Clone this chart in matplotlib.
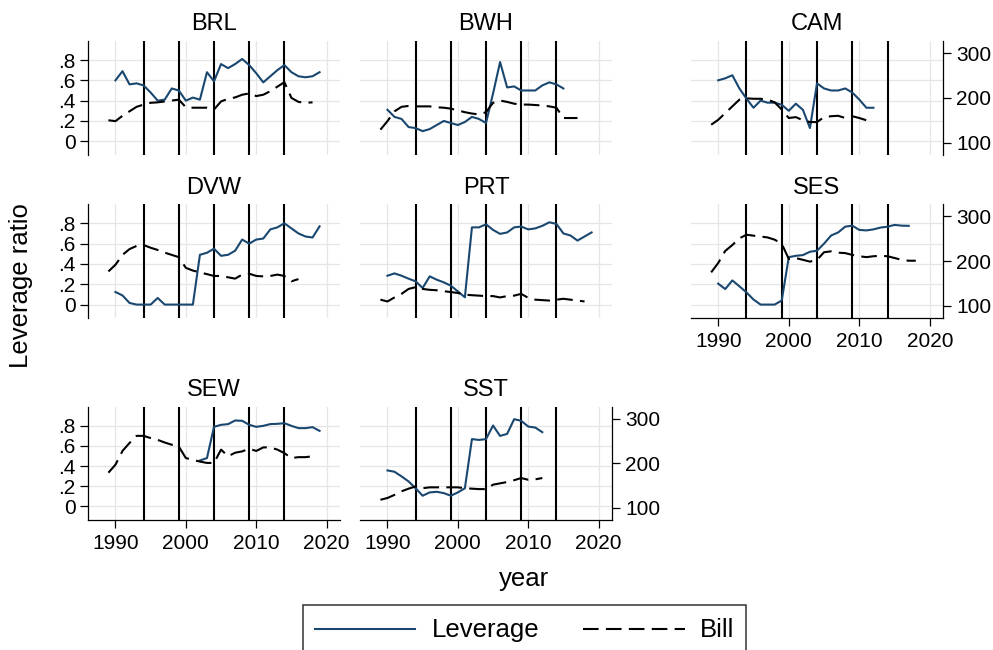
import matplotlib
matplotlib.use("Agg")
import matplotlib.pyplot as plt
from matplotlib.lines import Line2D
from matplotlib.patches import Rectangle

plt.rcParams['font.family'] = ['Liberation Sans', 'DejaVu Sans']

# ---------------- data ----------------
panels = ["BRL", "BWH", "CAM", "DVW", "PRT", "SES", "SEW", "SST"]
event_years = [1994, 1999, 2004, 2009, 2014]
lev_ticks = [0, 0.2, 0.4, 0.6, 0.8]
lev_ticklabels = ["0", ".2", ".4", ".6", ".8"]
bill_ticks = [100, 200, 300]
year_ticks = [1990, 2000, 2010, 2020]

brl_lev_start = 1990
brl_lev = [.60, .69, .56, .57, .55, .48, .40, .41, .52, .50, .40, .43, .41, .68, .59,
           .76, .72, .76, .81, .75, .67, .58, .64, .70, .75, .68, .64, .63, .64, .68]
brl_bill_start = 1989
brl_bill = [150, 148, 160, 170, 180, 185, 189, 190, 192, 194, 196, 179, 178, 178, 178,
            174, 192, 198, 201, 207, 210, 204, 207, 215, 225, 235, 200, 191, 189, 190]

bwh_lev_start = 1990
bwh_lev = [.31, .24, .22, .14, .13, .10, .12, .16, .20, .18, .16, .19, .24, .22, .18,
           .47, .78, .53, .54, .50, .50, .50, .55, .58, .56, .52]
bwh_bill_start = 1989
bwh_bill = [129, 148, 170, 180, 182, 181, 181, 181, 179, 178, 176, 172, 168, 165, 163,
            168, 189, 194, 191, 187, 185, 185, 184, 183, 181, 178, 155, 155, 155]

cam_lev_start = 1990
cam_lev = [.60, .62, .65, .52, .42, .33, .40, .38, .38, .36, .30, .37, .31, .13, .57,
           .52, .50, .50, .52, .48, .41, .33, .33]
cam_bill_start = 1989
cam_bill = [140, 151, 166, 181, 196, 199, 198, 198, 196, 190, 174, 155, 157, 150, 146,
            146, 157, 159, 160, 155, 159, 155, 150, 149]

dvw_lev_start = 1990
dvw_lev = [.124, .09, .016, 0, 0, 0, .065, 0, 0, 0, 0, 0, .49, .51, .55, .48, .49, .53,
           .64, .60, .64, .65, .74, .76, .80, .75, .70, .67, .66, .77]
dvw_bill_start = 1989
dvw_bill = [177, 192, 214, 227, 234, 236, 230, 225, 219, 214, 209, 185, 179, 175, 171,
            167, 167, 164, 161, 170, 172, 167, 166, 167, 170, 167, 155, 160]

prt_lev_start = 1990
prt_lev = [.284, .307, .284, .255, .229, .163, .278, .245, .219, .186, .13, .072, .76,
           .76, .79, .735, .696, .71, .76, .768, .74, .75, .775, .81, .794, .70, .68,
           .63, .67, .71]
prt_bill_start = 1989
prt_bill = [114, 110, 119, 127, 138, 142, 138, 136, 135, 133, 131, 129, 125, 124, 123,
            122, 122, 119, 122, 123, 127, 118, 114, 113, 112, 114, 116, 114, 112, 110]

ses_lev_start = 1990
ses_lev = [.206, .153, .238, .18, .12, .05, 0, 0, 0, .04, .467, .48, .487, .52, .53,
           .60, .68, .71, .767, .777, .735, .73, .74, .758, .767, .784, .777, .775]
ses_bill_start = 1989
ses_bill = [175, 196, 223, 236, 251, 259, 257, 255, 253, 248, 239, 205, 207, 203, 199,
            203, 220, 222, 219, 218, 214, 211, 209, 211, 212, 211, 207, 203, 201, 201]

sew_lev_start = 2002
sew_lev = [.456, .48, .79, .81, .817, .853, .85, .81, .79, .80, .817, .82, .826, .80,
           .777, .777, .787, .75]
sew_bill_start = 1989
sew_bill = [179, 197, 228, 246, 262, 262, 257, 253, 247, 242, 238, 212, 208, 204, 201,
            201, 231, 216, 224, 227, 233, 228, 236, 236, 231, 223, 212, 214, 214, 216]

sst_lev_start = 1990
sst_lev = [.357, .344, .298, .248, .18, .106, .139, .145, .132, .106, .139, .18, .668,
           .66, .668, .803, .70, .72, .866, .85, .793, .783, .737]
sst_bill_start = 1989
sst_bill = [118, 122, 129, 137, 143, 148, 144, 146, 146, 146, 146, 146, 144, 143, 142,
            142, 152, 155, 158, 162, 167, 163, 164, 167]

lev_series = [(brl_lev_start, brl_lev), (bwh_lev_start, bwh_lev), (cam_lev_start, cam_lev),
              (dvw_lev_start, dvw_lev), (prt_lev_start, prt_lev), (ses_lev_start, ses_lev),
              (sew_lev_start, sew_lev), (sst_lev_start, sst_lev)]
bill_series = [(brl_bill_start, brl_bill), (bwh_bill_start, bwh_bill), (cam_bill_start, cam_bill),
               (dvw_bill_start, dvw_bill), (prt_bill_start, prt_bill), (ses_bill_start, ses_bill),
               (sew_bill_start, sew_bill), (sst_bill_start, sst_bill)]

# ---------------- layout ----------------
W, H = 993, 650
fig = plt.figure(figsize=(W / 100, H / 100), dpi=100)

cols_px = [(88, 340), (360, 612), (690.7, 943.3)]
rows_px = [(40.7, 155), (204, 318.3), (406.7, 520)]
grid_pos = [(0, 0), (0, 1), (0, 2), (1, 0), (1, 1), (1, 2), (2, 0), (2, 1)]
right_axis = {"CAM", "SES", "SST"}
bottom_axis = {"SES", "SEW", "SST"}

NAVY = "#1a476f"
GRID = "#e6e6e6"
TICK_FS = 15
TITLE_FS = 17
LAB_FS = 18.5
DASH = (0, (7.5, 3.5))

for i, name in enumerate(panels):
    r, c = grid_pos[i]
    x0, x1 = cols_px[c]
    y0, y1 = rows_px[r]
    ax = fig.add_axes([x0 / W, 1 - y1 / H, (x1 - x0) / W, (y1 - y0) / H])
    ax2 = ax.twinx()
    ax.set_xlim(1986.1, 2021.9)
    ax.set_ylim(-0.135, 0.99)
    ax2.set_xlim(1986.1, 2021.9)
    ax2.set_ylim(72.4, 327.7)
    ax.set_facecolor("white")
    for s in list(ax.spines.values()) + list(ax2.spines.values()):
        s.set_visible(False)
    # grid
    for yv in lev_ticks:
        ax.axhline(yv, color=GRID, lw=0.9, zorder=0)
    for xv in year_ticks:
        ax.axvline(xv, color=GRID, lw=0.9, zorder=0)
    for ev in event_years:
        ax.axvline(ev, color="black", lw=1.5, zorder=2)

    st, vals = lev_series[i]
    ax.plot(range(st, st + len(vals)), vals, color=NAVY, lw=1.5, zorder=3)
    bst, bvals = bill_series[i]
    ax2.plot(range(bst, bst + len(bvals)), bvals, color="black", lw=1.5,
             linestyle=DASH, zorder=4)

    ax.set_yticks(lev_ticks)
    ax.set_xticks(year_ticks)
    ax2.set_yticks(bill_ticks)
    ax.tick_params(axis="both", length=6, width=0.9, labelsize=TICK_FS, color="black")
    ax2.tick_params(axis="y", length=6, width=0.9, labelsize=TICK_FS, pad=3.5)
    ax2.tick_params(axis="x", bottom=False, labelbottom=False, top=False, labeltop=False)

    if c == 0:
        ax.spines["left"].set_visible(True)
        ax.spines["left"].set_linewidth(0.9)
        ax.set_yticklabels(lev_ticklabels)
        ax.tick_params(axis="y", left=True, labelleft=True, right=False,
                       labelright=False, pad=3)
    else:
        ax.tick_params(axis="y", left=False, labelleft=False, right=False,
                       labelright=False)
    if name in bottom_axis:
        ax.spines["bottom"].set_visible(True)
        ax.spines["bottom"].set_linewidth(0.9)
        ax.tick_params(axis="x", bottom=True, labelbottom=True, pad=4)
    else:
        ax.tick_params(axis="x", bottom=False, labelbottom=False)

    if name in right_axis:
        ax2.spines["right"].set_visible(True)
        ax2.spines["right"].set_linewidth(0.9)
        ax2.tick_params(axis="y", right=True, labelright=True, left=False,
                        labelleft=False)
    else:
        ax2.tick_params(axis="y", right=False, labelright=False, left=False,
                        labelleft=False)

    fig.text((x0 + x1) / 2 / W, 1 - (y0 - 10.5) / H,
             name, ha="center", va="baseline", fontsize=TITLE_FS)

# axis titles
fig.text(21 / W, 1 - 286 / H, "Leverage ratio", rotation=90, ha="center", va="center",
         fontsize=LAB_FS)
fig.text(524 / W, 1 - 586 / H, "year", ha="center", va="baseline", fontsize=LAB_FS)

# legend box
rect = Rectangle((303 / W, 1 - 665 / H), (746 - 303) / W, (665 - 604.5) / H,
                 transform=fig.transFigure, fill=False, edgecolor="#333333", lw=1.1,
                 clip_on=False)
fig.patches.append(rect)
ly = 1 - 629 / H
fig.lines.append(Line2D([315 / W, 415 / W], [ly, ly], transform=fig.transFigure,
                        color=NAVY, lw=1.5))
fig.text(432 / W, 1 - 637 / H, "Leverage", ha="left", va="baseline", fontsize=LAB_FS)
fig.lines.append(Line2D([583 / W, 685 / W], [ly, ly], transform=fig.transFigure,
                        color="black", lw=1.5, linestyle=DASH))
fig.text(700 / W, 1 - 637 / H, "Bill", ha="left", va="baseline", fontsize=LAB_FS)

fig.savefig("out.png", dpi=100, facecolor="white")
